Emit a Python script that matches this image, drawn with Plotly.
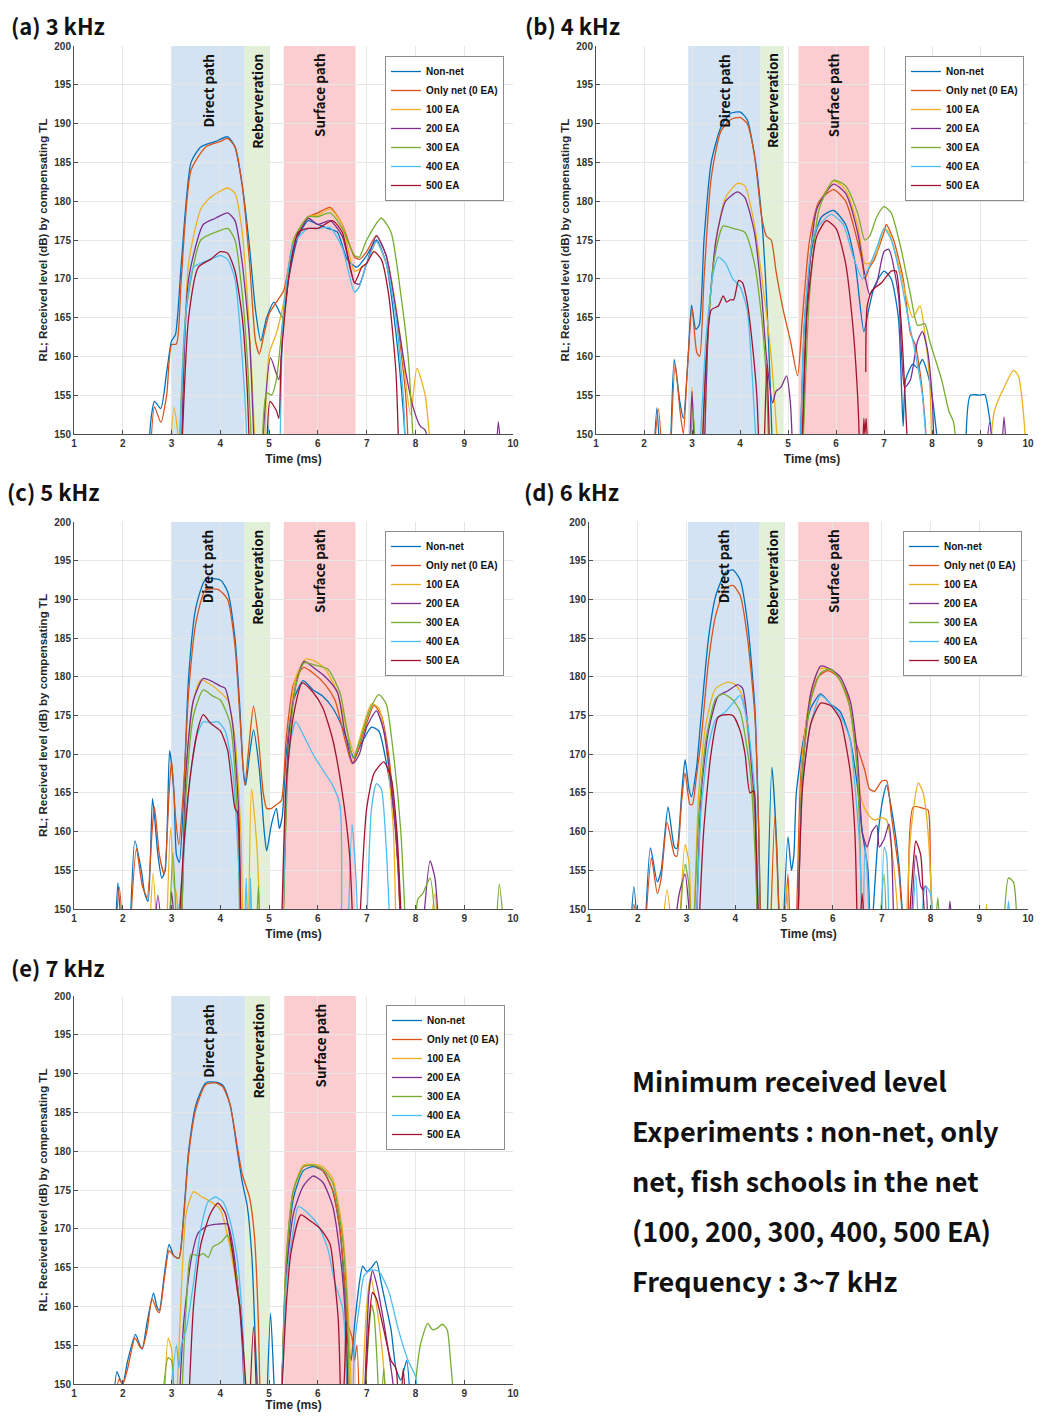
import plotly.graph_objects as go

# page offset: browser body margin of 8px; figure sized to avoid scrollbars
OFF = 8
W, H = 1045 - 2 * OFF, 1420 - 2 * OFF

SERIES = ["Non-net", "Only net (0 EA)", "100 EA", "200 EA", "300 EA", "400 EA", "500 EA"]
COLORS = ["#0072BD", "#D95319", "#EDB120", "#7E2F8E", "#77AC30", "#4DBEEE", "#A2142F"]
PANEL_TITLES = ["(a) 3 kHz", "(b) 4 kHz", "(c) 5 kHz", "(d) 6 kHz", "(e) 7 kHz"]
BAND_NAMES = ["Direct path", "Reberveration", "Surface path"]
X_TICKS = [1, 2, 3, 4, 5, 6, 7, 8, 9, 10]
Y_TICKS = [150, 155, 160, 165, 170, 175, 180, 185, 190, 195, 200]
NOTE_LINES = ["Minimum received level", "Experiments : non-net, only",
              "net, fish schools in the net", "(100, 200, 300, 400, 500 EA)",
              "Frequency : 3~7 kHz"]

# band edges (ms): direct start, direct end/reverb start, reverb end, surface start, surface end
BANDS_A = [3.0, 4.5, 5.0, 5.3, 6.77]
BANDS_B = [2.92, 4.43, 4.91, 5.22, 6.69]
BANDS_C = [2.99, 4.5, 5.0, 5.3, 6.77]
BANDS_D = [3.03, 4.5, 5.0, 5.29, 6.74]
BANDS_E = [3.0, 4.51, 5.02, 5.31, 6.78]

G = None
# ---------------- (a) 3 kHz ----------------
A_NONNET = [[2.5,145],[2.58,152],[2.65,154.2],[2.78,153.3],[2.9,158],[3.0,162],[3.08,162.8],[3.2,172],[3.4,185],[3.6,187],[3.9,187.7],[4.15,188.3],[4.3,187],[4.45,182],[4.6,174],[4.72,166],[4.83,162],[4.95,165],[5.1,167],[5.28,165],[5.4,170],[5.6,175.5],[5.8,177.5],[6.0,177],[6.2,176.5],[6.4,176],[6.6,172.5],[6.8,171.5],[7.0,173],[7.2,175],[7.4,172],[7.6,163],[7.75,153],[7.82,146]]
A_ONLYNET = [[2.55,145],[2.65,153.5],[2.78,151.5],[2.9,155],[3.0,161.5],[3.1,161.6],[3.2,170],[3.4,184],[3.7,187],[4.0,187.7],[4.15,188.1],[4.3,187],[4.45,182],[4.6,172],[4.72,162],[4.8,160.3],[4.9,163],[5.0,165.5],[5.15,167],[5.3,168.5],[5.5,174.5],[5.8,178],[6.0,178.5],[6.25,179.2],[6.5,177],[6.75,172.8],[6.85,172.5],[7.0,173.5],[7.2,175.6],[7.4,173],[7.6,166],[7.8,155],[7.86,147]]
A_100 = [[2.95,146],[3.05,153.4],[3.12,150.5],[3.17,146],G,[3.2,146],[3.35,172],[3.6,179],[3.8,180.5],[4.15,181.7],[4.3,181],[4.45,176],[4.55,168],[4.65,157],[4.72,147],G,[4.9,147],[5.0,160.3],[5.15,163],[5.3,167],[5.5,175],[5.8,178],[6.0,178.2],[6.25,179],[6.5,177],[6.75,171],[7.0,172],[7.2,174.8],[7.5,170],[7.7,162],[7.9,152.5],[8.03,158.5],[8.2,155],[8.32,147]]
A_200 = [[2.97,147],[3.0,150.4],[3.03,147],G,[3.2,146],[3.35,170],[3.65,177],[3.9,177.8],[4.15,178.5],[4.3,177.5],[4.45,172],[4.6,162],[4.7,147],G,[4.85,147],[5.03,159.8],[5.2,157],[5.3,165],[5.5,174],[5.8,177.8],[6.0,177],[6.25,177.5],[6.5,175.5],[6.75,169.5],[6.85,169.3],[7.0,172],[7.2,175.5],[7.4,173],[7.6,166],[7.8,158],[7.95,153.5],[8.1,151],[8.2,150.5],[8.3,147],G,[9.65,147],[9.7,151.6],[9.76,147]]
A_300 = [[3.15,146],[3.3,166],[3.6,175],[3.9,176],[4.15,176.5],[4.3,175],[4.45,168],[4.55,160],[4.65,147],G,[4.85,147],[4.95,155.3],[5.05,155],[5.15,157],[5.3,166],[5.5,175],[5.8,178],[6.0,178],[6.25,178.5],[6.5,176.5],[6.75,173],[6.85,172.8],[7.0,175],[7.3,177.8],[7.5,176],[7.7,168],[7.85,160],[7.97,147]]
A_400 = [[3.15,146],[3.3,166],[3.45,171.5],[3.6,172],[3.8,172.5],[4.0,173],[4.15,172.5],[4.3,170],[4.4,164],[4.5,155],[4.56,147],G,[4.93,147],[4.98,151],[5.03,147],G,[5.22,146],[5.3,166],[5.5,174.5],[5.8,176.5],[6.0,176.5],[6.25,176.6],[6.5,174],[6.75,168.3],[6.85,169],[7.0,172],[7.2,174.8],[7.4,172],[7.6,165],[7.75,155],[7.8,147]]
A_500 = [[3.2,146],[3.35,165],[3.55,171.5],[3.8,172.5],[4.0,173.5],[4.15,173.3],[4.3,171],[4.45,165],[4.55,156],[4.6,147],G,[4.95,147],[5.02,154.2],[5.15,153],[5.2,152],[5.25,160],[5.4,170],[5.6,176],[5.8,176.5],[6.0,176.5],[6.3,177.5],[6.5,176],[6.75,169.5],[6.9,171.5],[7.0,172],[7.15,173.5],[7.3,172.5],[7.45,168],[7.6,158],[7.66,147]]

# ---------------- (b) 4 kHz ----------------
B_NONNET = [[2.2,147],[2.27,153.4],[2.33,147],G,[2.55,147],[2.63,159.6],[2.75,154],[2.82,152],[2.92,160],[2.99,166.6],[3.08,163.5],[3.15,164],[3.25,175],[3.4,185],[3.6,189.5],[3.8,191.3],[4.0,191.5],[4.15,190.5],[4.3,186],[4.45,178],[4.55,168],[4.62,158],[4.68,147],G,[5.25,147],[5.35,165],[5.5,174],[5.7,178],[5.95,178.8],[6.2,177],[6.4,172],[6.58,163.2],[6.68,166],[6.8,169],[7.0,171],[7.15,170],[7.3,165],[7.37,155],[7.4,151],[7.45,157],[7.6,159],[7.7,158.5],[7.8,159.6],[7.9,158],[8.0,155],[8.15,147],G,[8.7,147],[8.8,155],[9.0,155],[9.1,155.1],[9.2,152],[9.3,147]]
B_ONLYNET = [[2.2,147],[2.3,153.2],[2.38,147],G,[2.55,147],[2.65,159],[2.75,153],[2.82,150],[2.9,158],[3.0,166.2],[3.1,160.5],[3.16,160],[3.25,170],[3.4,183],[3.6,189],[3.8,190.5],[4.0,190.8],[4.15,190],[4.3,186],[4.45,178],[4.55,175.5],[4.65,175],[4.75,171],[4.9,166],[5.05,162],[5.2,157.5],[5.3,165],[5.45,175],[5.65,180],[5.95,181.5],[6.2,180],[6.4,176],[6.55,172],[6.6,170],[6.7,171.5],[6.8,172.5],[7.0,176],[7.05,177],[7.2,175],[7.4,170],[7.55,163],[7.65,161.5],[7.75,158],[7.85,152],[7.9,147]]
B_100 = [[2.95,147],[3.0,156],[3.06,147],G,[3.25,146],[3.35,165],[3.5,175],[3.7,180.5],[3.95,182.3],[4.1,182],[4.3,177],[4.5,168],[4.65,160],[4.8,147],G,[5.3,146],[5.4,168],[5.6,179],[5.95,182.6],[6.2,181.5],[6.45,177],[6.6,172],[6.7,172],[6.85,173.5],[7.0,176.5],[7.1,176],[7.3,172],[7.45,168],[7.6,165],[7.75,166.5],[7.85,163],[7.95,157],[8.0,147],G,[9.2,147],[9.3,153],[9.5,156],[9.7,158.2],[9.8,157.5],[9.9,153],[9.97,147]]
B_200 = [[2.95,147],[3.0,155.5],[3.05,147],G,[3.25,146],[3.35,165],[3.5,175],[3.7,180],[3.95,181.2],[4.1,180.5],[4.3,176],[4.45,168],[4.55,160],[4.68,154],[4.75,155.5],[4.85,156],[4.97,157.5],[5.05,154],[5.1,147],G,[5.3,146],[5.4,167],[5.6,179],[5.95,182.2],[6.2,181],[6.45,176],[6.6,170.5],[6.7,168],[6.85,169.5],[7.0,173.5],[7.1,173.8],[7.3,168],[7.43,156],[7.55,157],[7.7,162],[7.8,163.2],[7.9,161],[8.0,155],[8.05,147],G,[9.12,147],[9.2,151.5],[9.28,147],G,[9.45,147],[9.5,152.2],[9.56,147]]
B_300 = [[2.95,147],[3.02,153],[3.08,147],G,[3.2,146],[3.3,160],[3.45,172],[3.65,176.8],[3.85,176.5],[4.1,176],[4.3,172],[4.45,165],[4.55,157],[4.6,147],G,[5.3,146],[5.45,168],[5.65,179],[5.95,182.7],[6.2,182],[6.45,178.5],[6.6,175],[6.7,175.5],[6.85,178],[7.0,179.3],[7.15,178.5],[7.35,174],[7.55,168],[7.7,164],[7.85,164.2],[7.95,162],[8.05,160],[8.2,157],[8.35,153],[8.45,151.5],[8.52,147]]
B_400 = [[3.15,146],[3.3,163],[3.45,171],[3.55,172.8],[3.7,172],[3.85,170],[4.0,169],[4.15,166],[4.25,158],[4.35,147],G,[5.25,146],[5.35,165],[5.55,176],[5.9,178.3],[6.15,177],[6.35,173],[6.55,170],[6.65,171],[6.85,174],[7.0,176.5],[7.15,175],[7.35,170],[7.5,165],[7.65,160.5],[7.8,155],[7.9,147]]
B_500 = [[3.2,146],[3.3,160],[3.4,166],[3.55,166.5],[3.65,167.8],[3.72,167],[3.8,167.3],[3.87,167.3],[3.97,169.8],[4.05,169.5],[4.15,167],[4.25,162],[4.35,155],[4.4,147],G,[4.5,147],[4.56,159],[4.62,147],G,[5.28,146],[5.4,166],[5.6,175.5],[5.8,177.5],[6.0,176.5],[6.2,172],[6.35,164],[6.45,155],[6.5,147],G,[6.55,147],[6.58,152],[6.6,150],[6.63,152],[6.66,147],G,[6.62,158],[6.65,166.5],[6.75,168.5],[6.95,169.5],[7.15,171],[7.25,171],[7.35,165],[7.5,147]]

# ---------------- (c) 5 kHz ----------------
C_NONNET = [[1.85,147],[1.9,153.4],[1.97,147],G,[2.15,147],[2.25,158.8],[2.38,155],[2.45,152],[2.52,151],[2.61,164.3],[2.72,157],[2.8,154],[2.87,155],[2.96,170.5],[3.05,165],[3.1,157],[3.16,156],[3.25,165],[3.35,180],[3.5,189],[3.7,192.6],[4.0,192.5],[4.15,191],[4.3,185],[4.4,176],[4.47,168],[4.52,166],[4.6,170],[4.68,173.1],[4.8,168],[4.9,160],[4.95,157.5],[5.05,161],[5.15,163],[5.21,160.4],[5.27,162],[5.35,170],[5.5,177],[5.7,179.5],[5.9,178.3],[6.1,177.5],[6.3,176],[6.5,173.5],[6.7,170],[6.75,169.5],[6.9,171.5],[7.1,173.5],[7.25,173],[7.4,169],[7.55,163],[7.65,155],[7.7,147]]
C_ONLYNET = [[1.85,147],[1.93,152.8],[2.0,147],G,[2.15,147],[2.28,157.8],[2.4,153],[2.5,151.5],[2.6,160],[2.65,163.2],[2.75,157],[2.85,154.5],[2.95,165],[3.0,169.2],[3.08,162],[3.15,158.3],[3.25,166],[3.35,178],[3.5,187],[3.7,191.2],[3.95,191.3],[4.15,190],[4.3,184],[4.4,175],[4.5,166],[4.6,172],[4.68,176.2],[4.78,172],[4.88,165],[4.95,163],[5.05,163],[5.15,163.5],[5.25,164],[5.35,172],[5.5,179],[5.7,181.2],[5.9,180.5],[6.15,179],[6.35,177],[6.55,172],[6.7,168.8],[6.8,170],[7.0,174],[7.15,176.3],[7.3,175],[7.45,170],[7.6,160],[7.7,147]]
C_100 = [[2.55,147],[2.62,154.6],[2.7,147],G,[2.9,147],[2.98,160.5],[3.05,153],[3.1,152],[3.14,147],G,[3.2,146],[3.3,168],[3.45,177],[3.6,179.6],[3.8,179],[4.0,178],[4.15,177],[4.3,172],[4.42,160],[4.46,147],G,[4.58,147],[4.64,165.5],[4.75,158],[4.82,147],G,[5.28,146],[5.4,172],[5.55,180],[5.75,182.3],[5.95,182],[6.15,181],[6.4,178],[6.6,173],[6.75,170],[6.9,173],[7.1,176.5],[7.25,176],[7.4,171],[7.55,160],[7.6,147],G,[8.3,147],[8.4,152],[8.46,147]]
C_200 = [[2.65,147],[2.72,151.8],[2.8,147],G,[2.95,147],[3.0,152.2],[3.07,147],G,[3.2,146],[3.3,168],[3.45,177],[3.65,179.8],[3.8,179.5],[4.0,178.8],[4.1,178.5],[4.25,174],[4.38,162],[4.42,147],G,[5.28,146],[5.4,172],[5.55,179],[5.72,182],[5.95,181],[6.15,180],[6.4,178],[6.55,173],[6.72,168.8],[6.85,170],[7.0,173.5],[7.2,175.6],[7.35,173],[7.5,166],[7.65,155],[7.7,147],G,[8.15,147],[8.3,156.2],[8.4,154],[8.48,147]]
C_300 = [[2.95,147],[3.03,157.3],[3.1,147],G,[3.2,146],[3.3,165],[3.45,175],[3.65,178.3],[3.85,177.5],[4.0,177],[4.2,174],[4.35,162],[4.4,147],G,[4.74,147],[4.78,153],[4.81,147],G,[5.28,146],[5.4,170],[5.55,179],[5.72,181.8],[5.95,181.5],[6.2,181],[6.45,178],[6.6,173],[6.72,169.5],[6.85,171.5],[7.05,175.5],[7.25,177.7],[7.4,176.5],[7.55,170],[7.7,160],[7.8,147],G,[8.0,147],[8.05,151.3],[8.15,152],[8.3,154],[8.42,147],G,[9.65,147],[9.72,153.2],[9.82,147]]
C_400 = [[3.1,147],[3.2,153],[3.35,165],[3.5,172],[3.65,174.2],[3.8,174.1],[3.95,174.2],[4.1,173],[4.25,168],[4.38,155],[4.42,147],G,[4.5,147],[4.53,154],[4.56,147],G,[4.6,147],[4.62,154],[4.65,147],G,[5.28,146],[5.35,165],[5.45,172],[5.55,174.2],[5.7,172.5],[5.9,170],[6.1,168],[6.3,166],[6.45,163.5],[6.48,147],G,[6.62,147],[6.7,161],[6.78,154],[6.82,147],G,[7.0,147],[7.1,163],[7.2,166.2],[7.3,165.5],[7.4,158],[7.48,147]]
C_500 = [[3.15,147],[3.25,158],[3.4,168],[3.55,173.5],[3.65,175.1],[3.8,174],[4.0,173],[4.15,170.5],[4.3,163],[4.35,162.5],[4.4,155],[4.42,147],G,[5.25,146],[5.35,166],[5.5,175],[5.68,179.2],[5.9,178],[6.1,176],[6.3,172],[6.5,165],[6.65,157],[6.72,147],G,[6.85,147],[7.0,163],[7.15,167.5],[7.35,169],[7.5,167],[7.62,160],[7.72,147]]

# ---------------- (d) 6 kHz ----------------
D_NONNET = [[1.85,147],[1.92,152.9],[2.0,147],G,[2.15,147],[2.26,157.9],[2.4,153.5],[2.48,155],[2.62,163.2],[2.75,158],[2.8,157.8],[2.9,165],[2.97,169.3],[3.05,165.5],[3.1,164.5],[3.2,168],[3.3,175],[3.45,185],[3.6,190.5],[3.8,193.5],[3.95,193.8],[4.1,192.5],[4.25,187],[4.4,176],[4.48,160],[4.52,147],G,[4.65,147],[4.75,168.3],[4.85,158],[4.9,147],G,[4.98,147],[5.08,159.3],[5.15,155],[5.2,157],[5.25,165],[5.4,172],[5.55,176],[5.75,177.8],[5.95,176.5],[6.15,175.5],[6.35,172],[6.5,166],[6.6,160],[6.65,158],[6.72,155],[6.76,147],G,[6.8,147],[6.95,161],[7.05,165],[7.1,166],[7.2,163],[7.35,156],[7.45,147]]
D_ONLYNET = [[1.85,147],[1.92,150.6],[2.0,147],G,[2.15,147],[2.28,156.6],[2.4,152],[2.48,154],[2.6,161.2],[2.75,157],[2.8,156.8],[2.9,164],[2.97,167.6],[3.07,163.5],[3.12,163.5],[3.2,167],[3.3,172],[3.45,182],[3.6,188],[3.8,191.5],[3.95,191.8],[4.1,190.5],[4.25,185],[4.4,175],[4.48,160],[4.52,147],G,[4.72,147],[4.81,161.8],[4.88,152],[4.92,147],G,[5.0,147],[5.08,154.5],[5.12,147],G,[5.25,147],[5.35,168],[5.5,176],[5.7,180],[5.9,180.8],[6.1,180],[6.3,177.5],[6.45,172],[6.55,170],[6.65,168],[6.75,165.5],[6.85,165.2],[7.0,166.5],[7.1,166.6],[7.2,162],[7.35,155],[7.4,151],[7.45,147],G,[7.55,147],[7.65,163.2],[7.85,163],[7.95,162.8],[8.0,155],[8.05,147]]
D_100 = [[2.5,147],[2.6,152.5],[2.7,147],G,[2.85,147],[2.97,158.3],[3.05,156],[3.09,147],G,[3.15,147],[3.25,165],[3.4,174],[3.6,178.5],[3.85,179.3],[4.0,179],[4.15,177.5],[4.3,170],[4.42,158],[4.46,147],G,[5.0,147],[5.05,153],[5.1,147],G,[5.28,147],[5.38,170],[5.55,178],[5.72,181],[5.95,181],[6.15,179.5],[6.35,176],[6.5,168],[6.55,165],[6.65,163],[6.75,162],[6.85,161.5],[7.0,161.8],[7.1,161.5],[7.2,158],[7.3,152],[7.35,147],G,[7.5,147],[7.6,160],[7.75,166.3],[7.85,165],[7.95,160],[8.05,147],G,[9.12,147],[9.15,150.6],[9.18,147]]
D_200 = [[2.75,147],[2.85,152],[2.97,154.5],[3.05,150],[3.08,147],G,[3.2,147],[3.3,165],[3.45,173],[3.65,177.5],[3.85,178.2],[4.05,179],[4.15,178.5],[4.25,174],[4.4,163],[4.45,147],G,[5.28,147],[5.38,168],[5.55,178],[5.75,181.4],[5.95,181],[6.15,180],[6.35,177],[6.5,170],[6.55,165],[6.6,160],[6.7,158],[6.8,160],[6.9,160.8],[6.95,158],[7.05,159],[7.15,161],[7.2,158],[7.25,147],G,[7.6,147],[7.7,157],[7.8,153],[7.85,152.5],[7.9,153],[7.95,147],G,[8.35,147],[8.4,151],[8.45,147]]
D_300 = [[2.85,147],[2.97,155.8],[3.05,153],[3.08,147],G,[3.15,147],[3.25,162],[3.4,172],[3.6,177.2],[3.75,177.8],[3.95,177],[4.1,175.5],[4.3,168],[4.42,155],[4.45,147],G,[5.28,147],[5.38,168],[5.55,177],[5.75,180.5],[5.95,181],[6.15,179.5],[6.35,176],[6.5,168],[6.55,160],[6.6,147],G,[6.95,147],[7.05,154.5],[7.1,147],G,[8.1,147],[8.15,151.5],[8.2,147],G,[9.5,147],[9.6,154],[9.7,153.5],[9.78,147]]
D_400 = [[3.2,147],[3.3,163],[3.45,171],[3.6,174.5],[3.8,175.5],[4.0,177],[4.1,177.6],[4.25,174],[4.4,165],[4.48,147],G,[5.28,147],[5.38,166],[5.55,174],[5.75,177.6],[5.95,176.5],[6.15,175],[6.35,172],[6.45,166],[6.55,158],[6.6,147],G,[6.62,147],[6.66,158],[6.7,155],[6.75,147],G,[7.0,147],[7.05,158],[7.1,157],[7.15,147],G,[7.62,147],[7.7,154.5],[7.75,147],G,[7.8,147],[7.9,153],[8.0,152],[8.05,147],G,[9.55,147],[9.6,151],[9.65,147]]
D_500 = [[3.25,147],[3.35,160],[3.5,170],[3.65,174.8],[3.8,175.1],[3.95,175],[4.1,173],[4.2,170],[4.3,165],[4.38,165.3],[4.42,160],[4.48,147],G,[5.28,147],[5.38,166],[5.55,174],[5.75,176.6],[5.95,176.3],[6.15,174.5],[6.35,168],[6.45,160],[6.5,147],G,[6.55,147],[6.6,152],[6.65,147],G,[7.55,147],[7.65,156],[7.7,158.8],[7.8,157],[7.85,152],[7.9,147]]

# ---------------- (e) 7 kHz ----------------
E_NONNET = [[1.8,147],[1.88,151.6],[1.95,150.5],[2.0,150],[2.1,153],[2.26,156.4],[2.35,155],[2.4,154.5],[2.5,158],[2.63,161.7],[2.7,160],[2.75,159.5],[2.85,164],[2.95,168],[3.05,166.5],[3.15,166.2],[3.25,172],[3.35,180],[3.5,186],[3.7,188.8],[3.9,188.9],[4.05,188.5],[4.2,186],[4.35,180],[4.45,176],[4.55,173],[4.65,166],[4.72,155],[4.78,147],G,[4.95,147],[5.03,159.1],[5.1,150],[5.12,147],G,[5.25,147],[5.35,165],[5.5,174],[5.7,177.5],[5.9,178],[6.1,177.5],[6.3,175],[6.45,170],[6.55,162],[6.62,155],[6.68,153],[6.75,157.5],[6.85,163],[6.92,165.2],[7.0,164.5],[7.1,165],[7.2,165.8],[7.3,163],[7.4,160],[7.5,157],[7.6,152],[7.7,150.5],[7.82,153],[7.9,147]]
E_ONLYNET = [[1.85,147],[1.92,150.6],[2.0,150],[2.1,152],[2.25,155.9],[2.35,154.8],[2.4,154.6],[2.5,157],[2.6,161],[2.7,159.5],[2.75,159.2],[2.85,163.5],[2.95,167.2],[3.05,166.5],[3.15,166.2],[3.25,171.5],[3.35,179.5],[3.5,185.5],[3.7,188.6],[3.9,188.8],[4.05,188.3],[4.2,186],[4.35,180.5],[4.45,177],[4.6,174],[4.7,169],[4.78,158],[4.82,147],G,[5.25,147],[5.35,165],[5.5,175],[5.7,178],[5.9,178.2],[6.1,177.5],[6.3,175],[6.45,170],[6.55,163],[6.6,158],[6.7,156],[6.75,153],[6.8,155],[6.85,147]]
E_100 = [[2.85,147],[2.93,155.9],[3.0,154.5],[3.05,147],G,[3.1,147],[3.2,162],[3.3,172],[3.45,174.8],[3.6,174.2],[3.8,173.5],[4.0,172.5],[4.15,169],[4.3,164],[4.45,157],[4.5,147],G,[5.25,147],[5.35,166],[5.5,175],[5.7,178.2],[5.9,178.3],[6.1,178],[6.3,176.5],[6.5,170],[6.6,162],[6.65,155],[6.7,147],G,[6.9,147],[7.0,160],[7.08,163.8],[7.15,162],[7.25,158],[7.35,152],[7.4,147]]
E_200 = [[3.15,147],[3.25,158],[3.4,166],[3.55,169.5],[3.75,170.4],[3.95,170.6],[4.15,170.6],[4.25,168],[4.35,163],[4.45,155],[4.5,147],G,[5.25,147],[5.35,164],[5.5,172],[5.7,175.5],[5.9,176.8],[6.1,176],[6.3,173],[6.45,167],[6.55,160],[6.6,147],G,[6.95,147],[7.05,162],[7.12,164.6],[7.2,163],[7.35,158],[7.5,152],[7.6,147]]
E_300 = [[2.8,147],[2.93,153.4],[3.0,153],[3.05,147],G,[3.2,147],[3.3,160],[3.4,166.7],[3.55,166.5],[3.65,166.8],[3.75,166.3],[3.85,167.7],[3.95,168],[4.05,168.5],[4.15,169.2],[4.3,165],[4.45,157],[4.52,147],G,[5.25,147],[5.35,166],[5.5,175],[5.7,178],[5.9,178.2],[6.1,177.7],[6.3,176],[6.5,169],[6.6,160],[6.65,147],G,[6.95,147],[7.05,157],[7.1,160.2],[7.15,159],[7.22,152],[7.25,147],G,[7.3,147],[7.35,152],[7.4,147],G,[7.95,147],[8.1,155],[8.25,157.8],[8.35,157],[8.45,157.2],[8.55,157.7],[8.65,157],[8.72,153],[8.8,147]]
E_400 = [[2.95,147],[3.1,155],[3.15,152],[3.2,155],[3.3,157],[3.45,163],[3.6,170],[3.75,173.5],[3.9,174.1],[4.05,173.5],[4.2,171],[4.35,166],[4.45,158],[4.5,147],G,[5.25,147],[5.35,163],[5.5,170],[5.6,172.9],[5.8,172],[6.0,170.5],[6.2,167.5],[6.35,163],[6.5,160],[6.55,157],[6.62,147],G,[6.72,147],[6.75,155],[6.85,160],[6.95,164],[7.1,164.7],[7.25,164.5],[7.45,162],[7.65,157],[7.85,153],[8.0,151],[8.07,147]]
E_500 = [[3.35,147],[3.45,160],[3.6,168],[3.8,172],[3.95,173.3],[4.1,172],[4.25,167],[4.35,162],[4.4,160],[4.5,152],[4.55,147],G,[4.6,147],[4.68,157.4],[4.75,147],G,[5.25,147],[5.35,160],[5.45,167],[5.65,171.8],[5.85,171],[6.05,170],[6.25,168],[6.35,163],[6.42,158],[6.47,147],G,[6.52,147],[6.55,152],[6.58,158],[6.62,147],G,[6.95,147],[7.05,158],[7.12,161.8],[7.2,161],[7.35,157],[7.5,153],[7.6,152],[7.65,147],G,[7.7,147],[7.75,152],[7.8,147]]

PANEL_DATA = [
    [A_NONNET, A_ONLYNET, A_100, A_200, A_300, A_400, A_500],
    [B_NONNET, B_ONLYNET, B_100, B_200, B_300, B_400, B_500],
    [C_NONNET, C_ONLYNET, C_100, C_200, C_300, C_400, C_500],
    [D_NONNET, D_ONLYNET, D_100, D_200, D_300, D_400, D_500],
    [E_NONNET, E_ONLYNET, E_100, E_200, E_300, E_400, E_500],
]
PANEL_BANDS = [BANDS_A, BANDS_B, BANDS_C, BANDS_D, BANDS_E]

# ---------------- layout geometry (window pixels) ----------------
PANEL_BOX = [(74, 513, 46, 434), (596, 1028, 46, 434), (74, 513, 522, 909),
             (589, 1028, 522, 909), (74, 513, 996, 1384)]
TITLE_POS = [(10, 8), (524, 8), (6, 474), (523, 474), (10, 950)]
LEGEND_POS = [(504, 56), (1024, 56), (504, 531), (1022, 531), (505, 1005)]
SHOW_YTITLE = [True, True, True, False, True]
BAND_COLORS = ["#d4e3f3", "#e3f0d8", "#fccdd0"]

SANS = "Liberation Sans, Arial, sans-serif"
KR = "Noto Sans CJK KR, Noto Sans, sans-serif"


def px(v):
    return (v - OFF) / W


def py(v):
    return 1 - (v - OFF) / H


def split(pairs):
    xs, ys = [], []
    for p in pairs:
        if p is None:
            xs.append(None)
            ys.append(None)
        else:
            xs.append(p[0])
            ys.append(p[1])
    return xs, ys


fig = go.Figure()
shapes, annotations = [], []
layout = dict(width=W, height=H, margin=dict(l=0, r=0, t=0, b=0, pad=0),
              paper_bgcolor="white", plot_bgcolor="white",
              font=dict(family=SANS, color="#262626"))

AX_FONT = dict(family=SANS, size=10, color="#333333", weight="bold")

for i in range(5):
    n = "" if i == 0 else str(i + 1)
    xa, ya = "x" + n, "y" + n
    leg = "legend" + n
    x0, x1, y0, y1 = PANEL_BOX[i]
    for k in range(7):
        xs, ys = split(PANEL_DATA[i][k])
        fig.add_trace(go.Scatter(
            x=xs, y=ys, mode="lines", name=SERIES[k],
            line=dict(color=COLORS[k], width=1.3, shape="spline", smoothing=0.6),
            xaxis=xa, yaxis=ya, legend=leg, connectgaps=False,
            hoverinfo="skip"))
    layout["xaxis" + n] = dict(
        domain=[px(x0), px(x1)], anchor=ya, range=[1, 10], tickvals=X_TICKS,
        showgrid=True, gridcolor="#e6e6e6", gridwidth=1, zeroline=False,
        showline=True, linecolor="#4d4d4d", linewidth=1, ticks="inside",
        ticklen=4, tickcolor="#4d4d4d", tickfont=AX_FONT, automargin=False,
        title=dict(text="Time (ms)", font=dict(family=SANS, size=12, weight="bold", color="#262626"),
                   standoff=6))
    layout["yaxis" + n] = dict(
        domain=[py(y1), py(y0)], anchor=xa, range=[150, 200], tickvals=Y_TICKS,
        showgrid=True, gridcolor="#e6e6e6", gridwidth=1, zeroline=False,
        showline=True, linecolor="#4d4d4d", linewidth=1, ticks="inside",
        ticklen=4, tickcolor="#4d4d4d", tickfont=AX_FONT, automargin=False,
        title=dict(text="RL; Received level (dB) by compensating TL" if SHOW_YTITLE[i] else "",
                   font=dict(family=SANS, size=11.5, weight="bold", color="#262626"),
                   standoff=4))
    lx, ly = LEGEND_POS[i]
    layout[leg] = dict(
        x=px(lx), y=py(ly), xanchor="right", yanchor="top", xref="paper", yref="paper",
        bgcolor="white", bordercolor="#8c8c8c", borderwidth=1,
        font=dict(family=SANS, size=10, color="#111111", weight="bold"),
        itemwidth=30, tracegroupgap=0)
    b = PANEL_BANDS[i]
    spans = [(b[0], b[1]), (b[1], b[2]), (b[3], b[4])]
    for j, (s0, s1) in enumerate(spans):
        shapes.append(dict(type="rect", xref=xa, yref=ya + " domain", x0=s0, x1=s1, y0=0, y1=1,
                           fillcolor=BAND_COLORS[j], line=dict(width=0), layer="below"))
        annotations.append(dict(
            x=(s0 + s1) / 2, y=199.3, xref=xa, yref=ya, text=BAND_NAMES[j], textangle=-90,
            showarrow=False, xanchor="center", yanchor="top",
            font=dict(family=KR, size=13.5, color="#111111", weight="bold")))
    tx, ty = TITLE_POS[i]
    annotations.append(dict(
        x=px(tx), y=py(ty), xref="paper", yref="paper", text=PANEL_TITLES[i],
        showarrow=False, xanchor="left", yanchor="top", borderpad=0,
        font=dict(family=KR, size=22, color="#111111", weight="bold")))

for j, line in enumerate(NOTE_LINES):
    annotations.append(dict(
        x=px(630), y=py(1080 + 50 * j), xref="paper", yref="paper", text=line,
        showarrow=False, xanchor="left", yanchor="middle",
        font=dict(family=KR, size=27, color="#111111", weight="bold")))

layout["shapes"] = shapes
layout["annotations"] = annotations
fig.update_layout(**layout)
fig.write_html("out.html")
